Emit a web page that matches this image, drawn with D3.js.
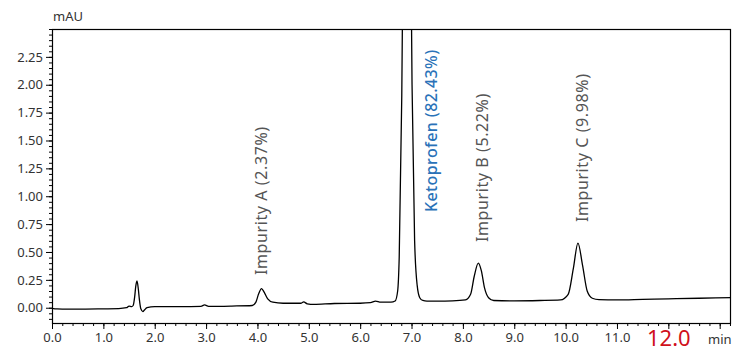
<!DOCTYPE html>
<html>
<head>
<meta charset="utf-8">
<script src="https://cdn.jsdelivr.net/npm/d3@7"></script>
<style>
  body { margin: 0; background: #fff; }
  svg { display: block; font-family: "Noto Sans", "Open Sans", sans-serif; }
</style>
</head>
<body>
<div id="chart"></div>
<script>
// chromatogram trace (time in min, absorbance in mAU)
const traceTime = [
  0.00, 0.10, 0.30, 0.60, 1.00, 1.30, 1.45, 1.50, 1.55, 1.58, 1.61, 1.63, 1.655, 1.68, 1.70, 1.73, 1.77, 1.80, 1.85, 2.00,
  2.50, 2.90, 2.97, 3.05, 3.50, 3.90, 3.97, 4.02, 4.08, 4.13, 4.20, 4.30, 4.50, 4.85, 4.90, 4.97, 5.10, 5.50,
  6.00, 6.20, 6.30, 6.40, 6.60, 6.68, 6.73, 6.76, 6.81, 6.86, 6.91, 6.96, 7.01, 7.06, 7.11, 7.16, 7.22, 7.30,
  7.50, 7.80, 8.05, 8.15, 8.22, 8.30, 8.36, 8.42, 8.50, 8.60, 9.00, 9.50, 9.90, 10.05, 10.15, 10.24, 10.33,
  10.42, 10.52, 10.65, 11.00, 11.50, 12.00, 12.60, 13.22
];
const traceMAU = [
  -0.005, -0.010, -0.012, -0.012, -0.010, -0.008, 0.000, 0.015, 0.010, 0.020, 0.100, 0.190, 0.240, 0.170, 0.080, -0.010, -0.035, -0.020, 0.000, 0.010,
  0.010, 0.012, 0.025, 0.012, 0.015, 0.020, 0.050, 0.120, 0.172, 0.140, 0.080, 0.050, 0.040, 0.040, 0.052, 0.035, 0.030, 0.038,
  0.040, 0.045, 0.060, 0.050, 0.050, 0.060, 0.150, 0.450, 1.900, 4.600, 6.300, 4.700, 2.000, 0.600, 0.200, 0.090, 0.065, 0.060,
  0.060, 0.062, 0.070, 0.120, 0.280, 0.400, 0.330, 0.180, 0.090, 0.065, 0.062, 0.065, 0.070, 0.120, 0.350, 0.580, 0.380,
  0.150, 0.085, 0.072, 0.070, 0.075, 0.080, 0.085, 0.090
];

// peak annotations
const peakNames = ["Impurity A (2.37%)", "Ketoprofen (82.43%)", "Impurity B (5.22%)", "Impurity C (9.98%)"];
const peakLabelTimes = [4.02, 7.33, 8.32, 10.27];
const peakLabelBase = [0.293, 0.858, 0.589, 0.768];   // mAU where each label starts
const peakIsMain = [false, true, false, false];

// axes
const xTicks = [0, 1, 2, 3, 4, 5, 6, 7, 8, 9, 10, 11, 12, 13];
const yTicks = [0, 0.25, 0.5, 0.75, 1.0, 1.25, 1.5, 1.75, 2.0, 2.25];
const xDomain = [0, 13.22];
const yDomain = [-0.137, 2.5];

const width = 733, height = 348;
const margin = {top: 29, right: 2, bottom: 25, left: 52};
const innerW = width - margin.left - margin.right,
  innerH = height - margin.top - margin.bottom;

const svg = d3.select("#chart").append("svg")
  .attr("width", width)
  .attr("height", height);

const g = svg.append("g")
  .attr("transform", "translate(" + margin.left + "," + margin.top + ")");

const x = d3.scaleLinear().domain(xDomain).range([0, innerW]);
const y = d3.scaleLinear().domain(yDomain).range([innerH, 0]);

// minor ticks
const xMinor = d3.range(0, 67).map(function(i) { return i * 0.2; }).filter(function(v) { return v <= xDomain[1]; });
const yMinor = d3.range(-2, 51).map(function(i) { return i * 0.05; }).filter(function(v) { return v >= yDomain[0] && v <= yDomain[1]; });

g.append("g")
  .attr("transform", "translate(0," + innerH + ")")
  .call(d3.axisBottom(x).tickValues(xMinor).tickSize(3).tickFormat(""))
  .call(function(a) { a.select(".domain").remove(); });

g.append("g")
  .call(d3.axisLeft(y).tickValues(yMinor).tickSize(3).tickFormat(""))
  .call(function(a) { a.select(".domain").remove(); });

// x axis
const xAxis = g.append("g")
  .attr("transform", "translate(0," + innerH + ")")
  .call(d3.axisBottom(x).tickValues(xTicks).tickSize(6).tickPadding(4)
    .tickFormat(function(d) { return d === 13 ? "" : d3.format(".1f")(d); }));
xAxis.select(".domain").remove();
xAxis.selectAll("text")
  .attr("font-size", 13)
  .attr("font-family", "Noto Sans")
  .attr("fill", "#333");
// the 12.0 label is drawn big and red
xAxis.selectAll(".tick")
  .filter(function(d) { return d === 12; })
  .select("text")
  .attr("font-size", 22)
  .attr("fill", "#d0101b")
  .attr("dy", "0.58em");

// y axis
const yAxis = g.append("g")
  .call(d3.axisLeft(y).tickValues(yTicks).tickSize(6).tickPadding(3).tickFormat(d3.format(".2f")));
yAxis.select(".domain").remove();
yAxis.selectAll("text")
  .attr("font-size", 13)
  .attr("font-family", "Noto Sans")
  .attr("fill", "#333");

// frame
g.append("rect")
  .attr("x", 0.5)
  .attr("y", 0.5)
  .attr("width", innerW - 1)
  .attr("height", innerH)
  .attr("fill", "none")
  .attr("stroke", "#000")
  .attr("stroke-width", 1.2);

// trace
g.append("clipPath").attr("id", "clip")
  .append("rect").attr("width", innerW).attr("height", innerH);

const points = traceTime.map(function(t, i) { return [t, traceMAU[i]]; });
const line = d3.line()
  .x(function(d) { return x(d[0]); })
  .y(function(d) { return y(d[1]); })
  .curve(d3.curveMonotoneX);

g.append("path")
  .datum(points)
  .attr("clip-path", "url(#clip)")
  .attr("fill", "none")
  .attr("stroke", "#000")
  .attr("stroke-width", 1.3)
  .attr("d", line);

// peak labels
g.selectAll(".peak-label")
  .data(peakNames)
  .enter().append("text")
  .attr("class", "peak-label")
  .attr("transform", function(d, i) {
    return "translate(" + (x(peakLabelTimes[i]) + 9) + "," + y(peakLabelBase[i]) + ") rotate(-90)";
  })
  .attr("font-size", 16)
  .attr("letter-spacing", function(d, i) { return peakIsMain[i] ? 0.4 : 0.6; })
  .attr("font-weight", function(d, i) { return peakIsMain[i] ? 500 : 400; })
  .attr("fill", function(d, i) { return peakIsMain[i] ? "#2a72b8" : "#555"; })
  .text(function(d) { return d; });

// units
svg.append("text")
  .attr("x", margin.left + 1)
  .attr("y", 21)
  .attr("font-size", 13)
  .attr("fill", "#333")
  .text("mAU");

svg.append("text")
  .attr("x", 708)
  .attr("y", 344)
  .attr("font-size", 13)
  .attr("fill", "#333")
  .text("min");
</script>
</body>
</html>
